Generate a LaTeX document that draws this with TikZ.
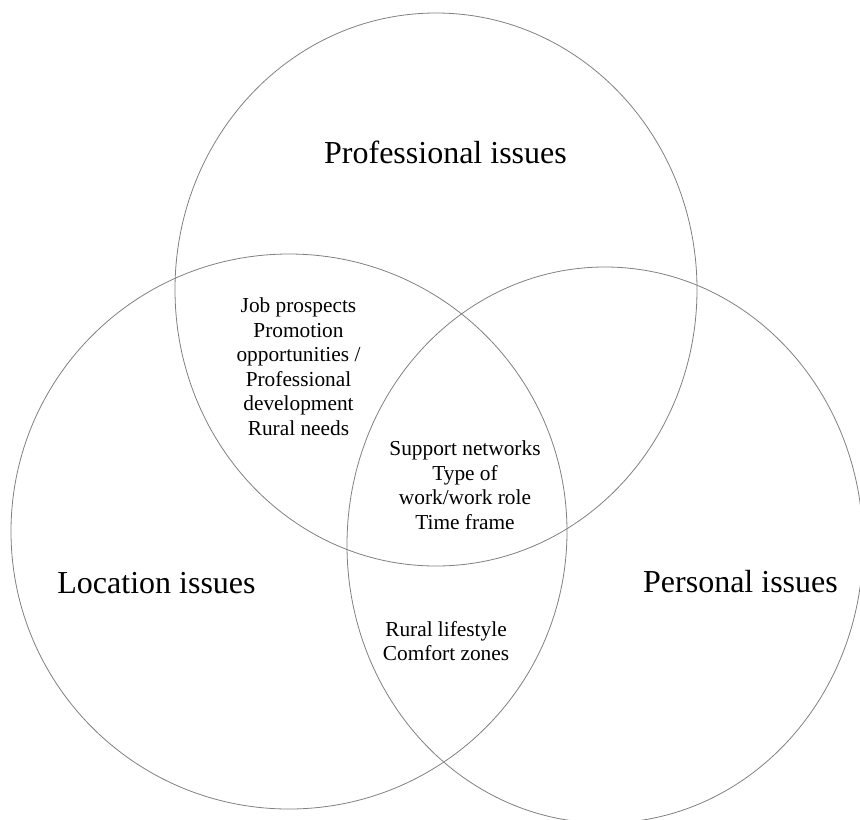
\documentclass[tikz,border=0pt]{standalone}
\usepackage{fontspec}
\setmainfont{Liberation Serif}
\begin{document}
\begin{tikzpicture}[x=0.75pt, y=-0.75pt,
		ring/.style={draw={rgb,255:red,128;green,128;blue,128}, line width=0.6pt},
		bigtext/.style={font=\fontsize{24}{28}\selectfont, anchor=base, inner sep=0pt},
		smalltext/.style={font=\fontsize{16}{18.4}\selectfont, align=center, inner sep=0pt}]
	\clip (0,0) rectangle (860,819);
	\draw[ring] (436,289.5) ellipse [x radius=261, y radius=276.5];
	\draw[ring] (289,531.5) ellipse [x radius=278, y radius=277.5];
	\draw[ring] (605,545) ellipse [x radius=258, y radius=278];
	\node[bigtext] (prof) at (445.5,163) {Professional issues};
	\node[bigtext] (loc) at (156.5,593) {Location issues};
	\node[bigtext] (pers) at (740.5,592) {Personal issues};
	\node[smalltext] (jobs) at (298.5,366.5) {Job prospects\\Promotion\\opportunities /\\Professional\\development\\Rural needs};
	\node[smalltext] (core) at (465,485) {Support networks\\Type of\\work/work role\\Time frame};
	\node[smalltext] (rural) at (446,641) {Rural lifestyle\\Comfort zones};
\end{tikzpicture}
\end{document}
